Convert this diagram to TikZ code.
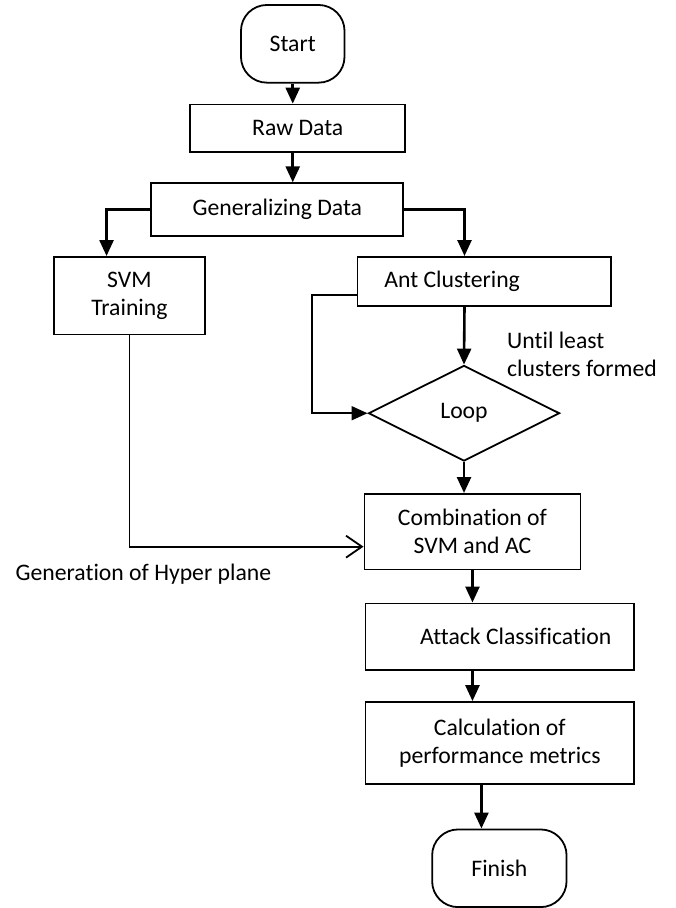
\documentclass[tikz,border=0pt]{standalone}
\usepackage{fontspec}
\setmainfont{Carlito}[Ligatures=NoCommon]
\usetikzlibrary{shapes.geometric,arrows.meta}

\begin{document}
\begin{tikzpicture}[x=0.5pt,y=-0.5pt,
    font=\fontsize{11.9pt}{14pt}\selectfont,
    box/.style={draw, line width=0.9pt, inner sep=2pt, align=center},
    term/.style={box, rounded corners=13pt},
    cond/.style={draw, line width=0.9pt, diamond, inner sep=0pt},
    arr/.style={line width=1.3pt, -{Triangle[length=8pt,width=7pt]}},
    back/.style={line width=0.9pt}]
    \path[fill=white] (0,0) rectangle (678,908);

    \node[term, minimum width=52pt, minimum height=39pt] (start) at (294,44) {Start};
    \node[box, minimum width=108pt, minimum height=24pt] (raw) at (299,129) {Raw Data};
    \node[box, minimum width=126.5pt, minimum height=26.5pt] (gen) at (278.5,210.5) {Generalizing Data};
    \node[box, minimum width=76pt, minimum height=39pt] (svm) at (130,297) {SVM\\Training};
    \node[box, align=flush left, text width=100.5pt, inner xsep=13.5pt, minimum height=24.5pt] (ant) at (486.5,282.5) {Ant Clustering};
    \node[cond, minimum width=96pt, minimum height=48pt] (loop) at (466,415) {Loop};
    \node[box, minimum width=108.5pt, minimum height=38pt] (comb) at (474.5,534) {Combination of\\SVM and AC};
    \node[box, align=flush right, text width=112pt, inner xsep=11.5pt, minimum height=33.5pt] (attack) at (502,639.5) {Attack Classification};
    \node[box, minimum width=135pt, minimum height=41pt] (calc) at (502,746) {Calculation of\\performance metrics};
    \node[term, minimum width=67.5pt, minimum height=39pt] (finish) at (501.5,872) {Finish};

    % side notes
    \node[anchor=west, align=left, inner sep=0pt] (until) at (509,355.5) {Until least\\clusters formed};
    \node[inner sep=0pt] (hyper) at (144,577) {Generation of Hyper plane};

    \draw[arr] (start.south) -- (start.south |- raw.north);
    \draw[arr] (raw.south -| start.south) -- (start.south |- gen.north);
    \draw[arr] (gen.west) -| ([xshift=-11.5pt]svm.north);
    \draw[arr] (gen.east) -| ([xshift=-10pt]ant.north);
    \draw[arr] ([xshift=-10pt]ant.south) -- (loop.north);
    % repeat until the clusters settle
    \draw[back, -{Triangle[length=8pt,width=7pt]}] ([yshift=-7pt]ant.west) -- ++(-45,0) |- (loop.west);
    \draw[arr] (loop.south) -- (loop.south |- comb.north);
    \draw[back, -{Straight Barb[length=8pt,width=11pt]}] (svm.south) |- ([yshift=-7.5pt]comb.west);
    \draw[arr] (comb.south) -- (comb.south |- attack.north);
    \draw[arr] (attack.south -| comb.south) -- (comb.south |- calc.north);
    \draw[arr] ([xshift=-9pt]finish.north |- calc.south) -- ([xshift=-9pt]finish.north);
\end{tikzpicture}
\end{document}
